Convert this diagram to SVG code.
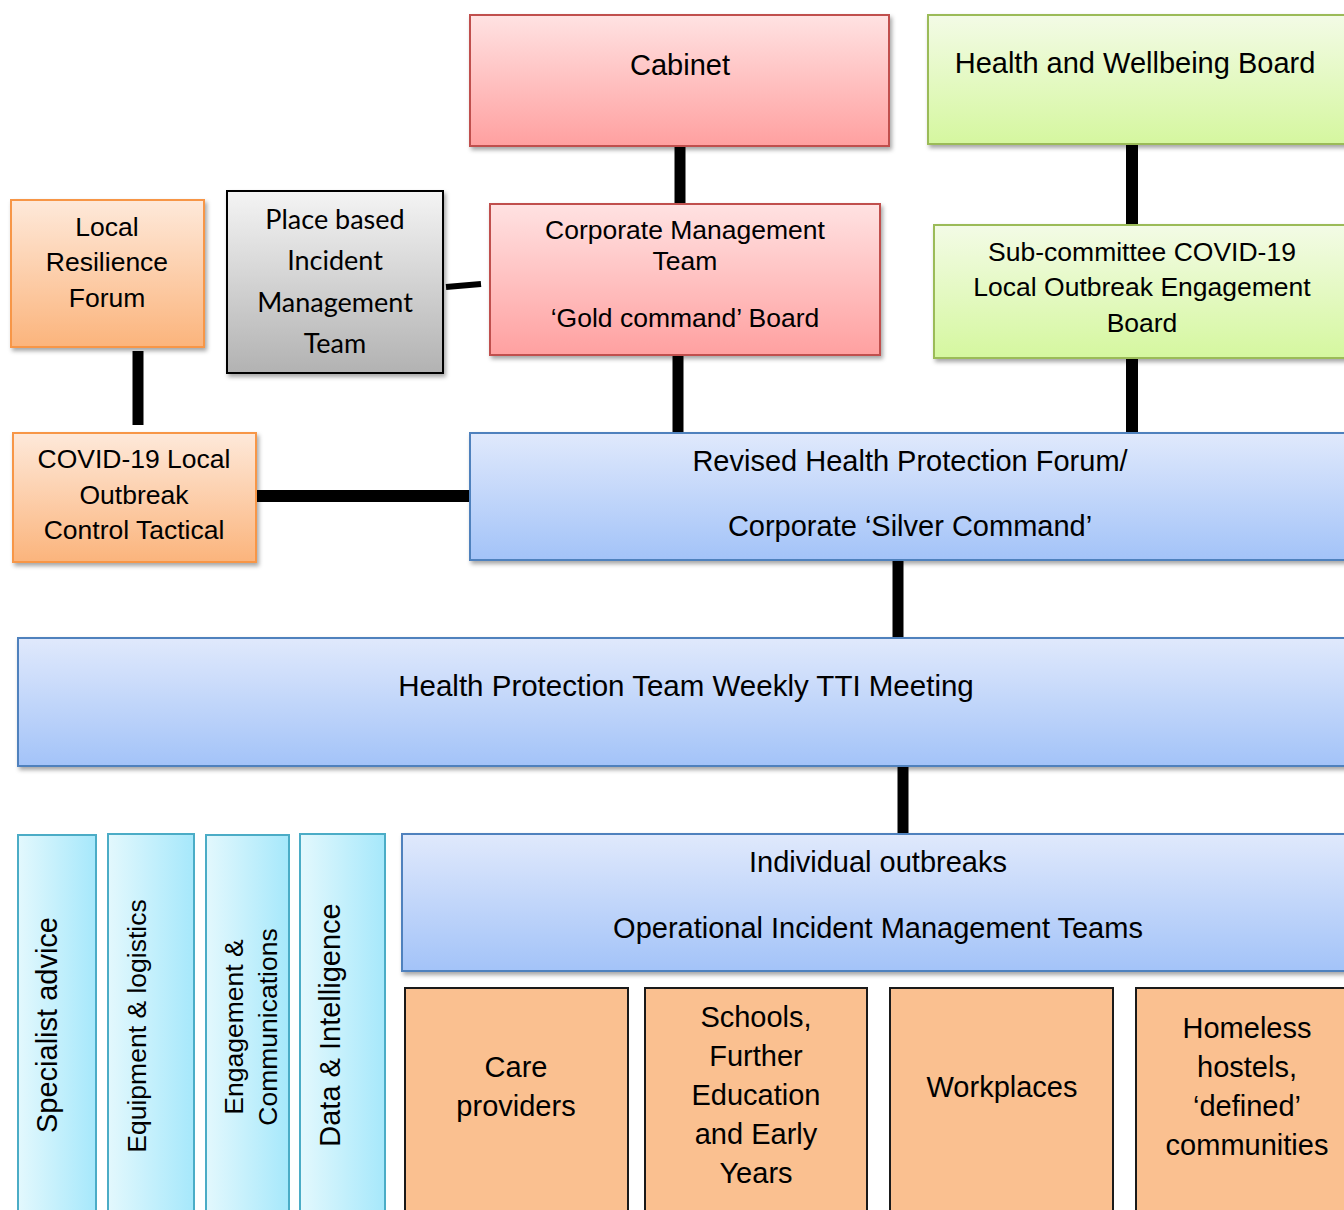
<svg xmlns="http://www.w3.org/2000/svg" width="1344" height="1210" viewBox="0 0 1344 1210">
<defs>
<linearGradient id="gRed" x1="0" y1="0" x2="0" y2="1"><stop offset="0" stop-color="#ffe2e2"/><stop offset="1" stop-color="#ffa0a0"/></linearGradient>
<linearGradient id="gGreen" x1="0" y1="0" x2="0" y2="1"><stop offset="0" stop-color="#f3fbe6"/><stop offset="1" stop-color="#d5f79f"/></linearGradient>
<linearGradient id="gOrange" x1="0" y1="0" x2="0" y2="1"><stop offset="0" stop-color="#fee9da"/><stop offset="1" stop-color="#fbb47c"/></linearGradient>
<linearGradient id="gGray" x1="0" y1="0" x2="0" y2="1"><stop offset="0" stop-color="#f4f4f4"/><stop offset="1" stop-color="#b2b2b2"/></linearGradient>
<linearGradient id="gBlue" x1="0" y1="0" x2="0" y2="1"><stop offset="0" stop-color="#e0e9fc"/><stop offset="1" stop-color="#a3c3f8"/></linearGradient>
<linearGradient id="gCyan" x1="0" y1="0" x2="1" y2="0"><stop offset="0" stop-color="#e3f8fd"/><stop offset="1" stop-color="#a6e8fb"/></linearGradient>
<filter id="sh" x="-5%" y="-5%" width="110%" height="115%"><feDropShadow dx="2" dy="3" stdDeviation="2" flood-color="#000" flood-opacity="0.35"/></filter>
</defs>
<style>
text{font-family:"Liberation Sans",Arial,sans-serif;fill:#000;text-anchor:middle}
.big{font-size:29px}
.mid{font-size:26.5px}
.vs{font-size:26.5px}
.cal{font-family:Lato,"Open Sans",sans-serif;font-size:27px}
.red{fill:url(#gRed);stroke:#c0504d;stroke-width:2}
.green{fill:url(#gGreen);stroke:#9bbb59;stroke-width:2}
.orange{fill:url(#gOrange);stroke:#f79646;stroke-width:2}
.gray{fill:url(#gGray);stroke:#000;stroke-width:2}
.blue{fill:url(#gBlue);stroke:#4f81bd;stroke-width:2}
.cyan{fill:url(#gCyan);stroke:#4bacc6;stroke-width:2}
.peach{fill:#fac090;stroke:#1a1a1a;stroke-width:2}
.conn line{stroke:#000;stroke-linecap:butt}
</style>

<g id="connectors" class="conn">
<line x1="680" y1="146" x2="680" y2="204" stroke-width="11"/>
<line x1="1132" y1="144" x2="1132" y2="224" stroke-width="12"/>
<line x1="446" y1="287" x2="481" y2="284" stroke-width="6"/>
<line x1="138" y1="351" x2="138" y2="425" stroke-width="11"/>
<line x1="678" y1="355" x2="678" y2="433" stroke-width="11"/>
<line x1="1132" y1="359" x2="1132" y2="434" stroke-width="12"/>
<line x1="257" y1="496" x2="472" y2="496" stroke-width="12"/>
<line x1="898" y1="560" x2="898" y2="638" stroke-width="11"/>
<line x1="903" y1="766" x2="903" y2="834" stroke-width="11"/>
</g>

<g id="cabinet"><rect class="red" filter="url(#sh)" x="470" y="15" width="419" height="131"/><text class="big" x="680" y="75">Cabinet</text></g>
<g id="hwb"><rect class="green" filter="url(#sh)" x="928" y="15" width="420" height="129"/><text class="big" x="1135" y="73">Health and Wellbeing Board</text></g>
<g id="cmt"><rect class="red" filter="url(#sh)" x="490" y="204" width="390" height="151"/>
<text class="mid" x="685" y="239">Corporate Management</text><text class="mid" x="685" y="270">Team</text><text class="mid" x="685" y="327">‘Gold command’ Board</text></g>
<g id="place"><rect class="gray" filter="url(#sh)" x="227" y="191" width="216" height="182"/>
<text class="cal" x="335" y="229">Place based</text><text class="cal" x="335" y="270">Incident</text><text class="cal" x="335" y="312">Management</text><text class="cal" x="335" y="353">Team</text></g>
<g id="lrf"><rect class="orange" filter="url(#sh)" x="11" y="200" width="193" height="147"/>
<text class="mid" x="107" y="236">Local</text><text class="mid" x="107" y="271">Resilience</text><text class="mid" x="107" y="307">Forum</text></g>
<g id="sub"><rect class="green" filter="url(#sh)" x="934" y="225" width="414" height="133"/>
<text class="mid" x="1142" y="261">Sub-committee COVID-19</text><text class="mid" x="1142" y="296">Local Outbreak Engagement</text><text class="mid" x="1142" y="332">Board</text></g>
<g id="covid"><rect class="orange" filter="url(#sh)" x="13" y="433" width="243" height="129"/>
<text class="mid" x="134" y="468">COVID-19 Local</text><text class="mid" x="134" y="504">Outbreak</text><text class="mid" x="134" y="539">Control Tactical</text></g>
<g id="revised"><rect class="blue" filter="url(#sh)" x="470" y="433" width="880" height="127"/>
<text class="big" x="910" y="471">Revised Health Protection Forum/</text><text class="big" x="910" y="536">Corporate ‘Silver Command’</text></g>
<g id="hpt"><rect class="blue" filter="url(#sh)" x="18" y="638" width="1332" height="128"/>
<text class="big" x="686" y="696" style="font-size:29.5px">Health Protection Team Weekly TTI Meeting</text></g>
<g id="individual"><rect class="blue" filter="url(#sh)" x="402" y="834" width="948" height="137"/>
<text class="big" x="878" y="872">Individual outbreaks</text><text class="big" x="878" y="938">Operational Incident Management Teams</text></g>

<g id="specialist"><rect class="cyan" x="18" y="835" width="78" height="385"/><text class="big" transform="translate(57,1025) rotate(-90)">Specialist advice</text></g>
<g id="equipment"><rect class="cyan" x="108" y="834" width="86" height="386"/><text class="vs" transform="translate(146,1026) rotate(-90)">Equipment &amp; logistics</text></g>
<g id="engagement"><rect class="cyan" x="206" y="835" width="83" height="385"/><text class="vs" transform="translate(243,1027) rotate(-90)">Engagement &amp;</text><text class="vs" transform="translate(277,1027) rotate(-90)">Communications</text></g>
<g id="data"><rect class="cyan" x="300" y="834" width="85" height="386"/><text class="big" transform="translate(340,1025) rotate(-90)">Data &amp; Intelligence</text></g>

<g id="care"><rect class="peach" x="405" y="988" width="223" height="232"/><text class="big" x="516" y="1077">Care</text><text class="big" x="516" y="1116">providers</text></g>
<g id="schools"><rect class="peach" x="645" y="988" width="222" height="232"/>
<text class="big" x="756" y="1027">Schools,</text><text class="big" x="756" y="1066">Further</text><text class="big" x="756" y="1105">Education</text><text class="big" x="756" y="1144">and Early</text><text class="big" x="756" y="1183">Years</text></g>
<g id="workplaces"><rect class="peach" x="890" y="988" width="223" height="232"/><text class="big" x="1002" y="1097">Workplaces</text></g>
<g id="homeless"><rect class="peach" x="1136" y="988" width="214" height="232"/>
<text class="big" x="1247" y="1038">Homeless</text><text class="big" x="1247" y="1077">hostels,</text><text class="big" x="1247" y="1116">‘defined’</text><text class="big" x="1247" y="1155">communities</text></g>
</svg>
